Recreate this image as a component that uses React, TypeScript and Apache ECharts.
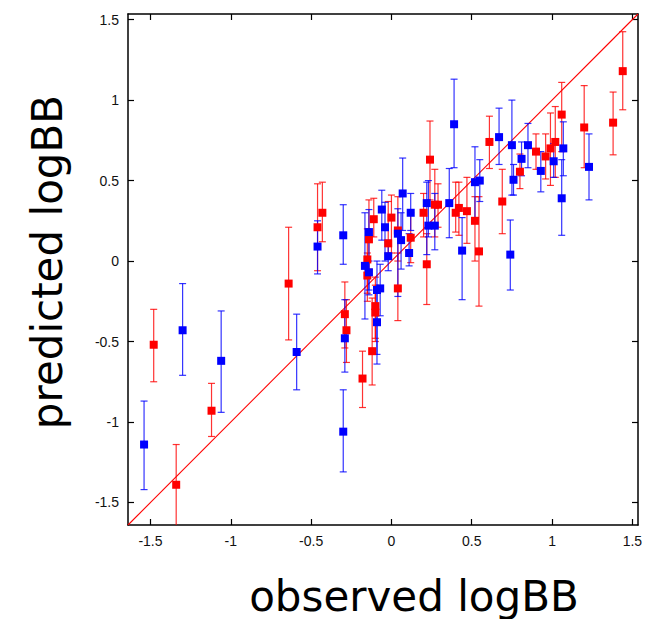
import React, { useEffect, useRef } from "react";
import * as echarts from "echarts";

// Axis extent and tick values
const AXIS_MIN = -1.64;
const AXIS_MAX = 1.535;
const TICKS = [-1.5, -1, -0.5, 0, 0.5, 1, 1.5];

// Red series: observed, predicted, upper error, lower error
const redX = [-1.48, -1.34, -1.12, -0.64, -0.46, -0.43, -0.29, -0.28, -0.18, -0.12, -0.10, -0.10, -0.15, -0.15, -0.14, -0.11, 0.00, -0.02, 0.04, 0.04, 0.12, 0.20, 0.24, 0.22, 0.27, 0.29, 0.40, 0.42, 0.47, 0.52, 0.545, 0.61, 0.69, 0.80, 0.90, 0.96, 0.99, 1.02, 1.06, 1.20, 1.38, 1.44];
const redY = [-0.52, -1.39, -0.93, -0.14, 0.21, 0.30, -0.33, -0.43, -0.73, -0.56, -0.28, -0.32, 0.01, -0.09, 0.135, 0.26, 0.27, 0.11, 0.19, -0.17, 0.145, 0.30, 0.63, -0.02, 0.35, 0.35, 0.30, 0.33, 0.31, 0.25, 0.06, 0.74, 0.37, 0.555, 0.68, 0.65, 0.70, 0.74, 0.91, 0.83, 0.86, 1.18];
const redHi = [-0.30, -1.14, -0.76, 0.21, 0.48, 0.49, -0.13, -0.24, -0.56, -0.23, -0.10, -0.15, 0.20, 0.05, 0.38, 0.39, 0.41, 0.37, 0.40, 0.05, 0.30, 0.42, 0.87, 0.17, 0.57, 0.48, 0.49, 0.49, 0.52, 0.40, 0.40, 0.90, 0.57, 0.665, 0.79, 0.79, 0.92, 0.96, 1.11, 1.09, 1.05, 1.425];
const redLo = [-0.75, -1.75, -1.09, -0.49, -0.06, 0.12, -0.54, -0.63, -0.91, -0.77, -0.50, -0.48, -0.20, -0.25, -0.05, 0.15, 0.05, 0.05, 0.00, -0.37, -0.01, 0.15, 0.38, -0.27, 0.15, 0.21, 0.18, 0.16, 0.11, 0.00, -0.28, 0.575, 0.17, 0.45, 0.57, 0.51, 0.47, 0.52, 0.68, 0.58, 0.66, 0.94];

// Blue series
const blueX = [-1.54, -1.30, -1.06, -0.59, -0.46, -0.30, -0.29, -0.30, 0.07, -0.06, 0.12, -0.04, -0.14, 0.04, 0.06, -0.02, 0.11, -0.165, -0.14, -0.09, -0.07, -0.09, 0.22, 0.23, 0.27, 0.36, 0.39, 0.44, 0.52, 0.55, 0.67, 0.74, 0.75, 0.76, 0.81, 0.85, 0.93, 1.01, 1.07, 1.06, 1.23];
const blueY = [-1.14, -0.43, -0.62, -0.565, 0.09, 0.16, -0.48, -1.06, 0.42, 0.32, 0.30, 0.21, 0.18, 0.17, 0.13, 0.03, 0.05, -0.03, -0.07, -0.18, -0.17, -0.38, 0.36, 0.22, 0.22, 0.36, 0.85, 0.065, 0.49, 0.50, 0.77, 0.04, 0.72, 0.505, 0.635, 0.72, 0.56, 0.62, 0.70, 0.39, 0.585];
const blueHi = [-0.87, -0.14, -0.31, -0.33, 0.25, 0.35, -0.24, -0.80, 0.64, 0.44, 0.42, 0.365, 0.32, 0.325, 0.30, 0.13, 0.17, 0.30, 0.00, 0.00, -0.02, -0.18, 0.49, 0.50, 0.42, 0.575, 1.13, 0.27, 0.71, 0.63, 0.95, 0.255, 1.00, 0.60, 0.74, 0.855, 0.68, 0.73, 0.865, 0.63, 0.79];
const blueLo = [-1.42, -0.71, -0.94, -0.80, -0.08, -0.02, -0.69, -1.31, 0.19, 0.13, 0.19, 0.00, -0.21, -0.22, -0.05, -0.06, -0.03, -0.36, -0.18, -0.64, -0.34, -0.58, 0.04, 0.15, 0.07, 0.145, 0.58, -0.24, 0.27, 0.37, 0.60, -0.18, 0.41, 0.41, 0.53, 0.58, 0.43, 0.52, 0.53, 0.16, 0.38];

const RED = "#ff0000";
const BLUE = "#0000ff";

function errorSeries(xs: number[], lo: number[], hi: number[], color: string) {
  return {
    type: "custom",
    clip: true,
    silent: true,
    data: xs.map((x, i) => [x, lo[i], hi[i]]),
    encode: { x: 0, y: [1, 2] },
    renderItem: (params: any, api: any) => {
      const x = api.value(0);
      const top = api.coord([x, api.value(2)]);
      const bot = api.coord([x, api.value(1)]);
      const cap = 3.5;
      const style = { stroke: color, lineWidth: 1.2, opacity: 0.8 };
      return {
        type: "group",
        children: [
          { type: "line", shape: { x1: top[0], y1: top[1], x2: bot[0], y2: bot[1] }, style },
          { type: "line", shape: { x1: top[0] - cap, y1: top[1], x2: top[0] + cap, y2: top[1] }, style },
          { type: "line", shape: { x1: bot[0] - cap, y1: bot[1], x2: bot[0] + cap, y2: bot[1] }, style },
        ],
      };
    },
    z: 3,
  };
}

function pointSeries(xs: number[], ys: number[], color: string) {
  return {
    type: "scatter",
    symbol: "rect",
    symbolSize: 8,
    data: xs.map((x, i) => [x, ys[i]]),
    itemStyle: { color, opacity: 1 },
    z: 5,
  };
}

const labelStyle = {
  fontFamily: "Liberation Sans, Arial, sans-serif",
  fontSize: 14,
  color: "#111",
};

function makeAxis(main: boolean, position: string) {
  return {
    type: "value",
    min: AXIS_MIN,
    max: AXIS_MAX,
    position,
    splitLine: { show: false },
    axisLine: { show: true, onZero: false, lineStyle: { color: "#000", width: 1.5 } },
    axisTick: {
      show: true,
      inside: true,
      length: 6,
      customValues: TICKS,
      lineStyle: { color: "#000", width: 1.2 },
    },
    axisLabel: main
      ? { show: true, customValues: TICKS, margin: 9, ...labelStyle }
      : { show: false },
  };
}

export default function App() {
  const ref = useRef<HTMLDivElement>(null);
  useEffect(() => {
    if (!ref.current) return;
    const chart = echarts.init(ref.current, null, { renderer: "svg" });
    chart.setOption({
      animation: false,
      backgroundColor: "#ffffff",
      grid: { left: 128, top: 14, width: 510, height: 511, show: false },
      xAxis: [makeAxis(true, "bottom"), makeAxis(false, "top")],
      yAxis: [makeAxis(true, "left"), makeAxis(false, "right")],
      series: [
        {
          type: "line",
          data: [
            [AXIS_MIN, AXIS_MIN],
            [AXIS_MAX, AXIS_MAX],
          ],
          symbol: "none",
          silent: true,
          itemStyle: { color: RED },
          lineStyle: { color: RED, width: 1.1, opacity: 1 },
          z: 2,
        },
        errorSeries(redX, redLo, redHi, RED),
        errorSeries(blueX, blueLo, blueHi, BLUE),
        pointSeries(redX, redY, RED),
        pointSeries(blueX, blueY, BLUE),
      ],
      graphic: [
        {
          type: "text",
          x: 47,
          y: 262,
          rotation: Math.PI / 2,
          style: {
            text: "predicted logBB",
            font: "42px 'DejaVu Sans', Verdana, sans-serif",
            fill: "#000",
            textAlign: "center",
            textVerticalAlign: "middle",
          },
        },
        {
          type: "text",
          x: 414,
          y: 596,
          style: {
            text: "observed logBB",
            font: "42px 'DejaVu Sans', Verdana, sans-serif",
            fill: "#000",
            textAlign: "center",
            textVerticalAlign: "middle",
          },
        },
      ],
    });
    return () => chart.dispose();
  }, []);
  return (
    <div
      ref={ref}
      style={{ position: "fixed", left: 0, top: 0, width: 646, height: 619 }}
    />
  );
}
